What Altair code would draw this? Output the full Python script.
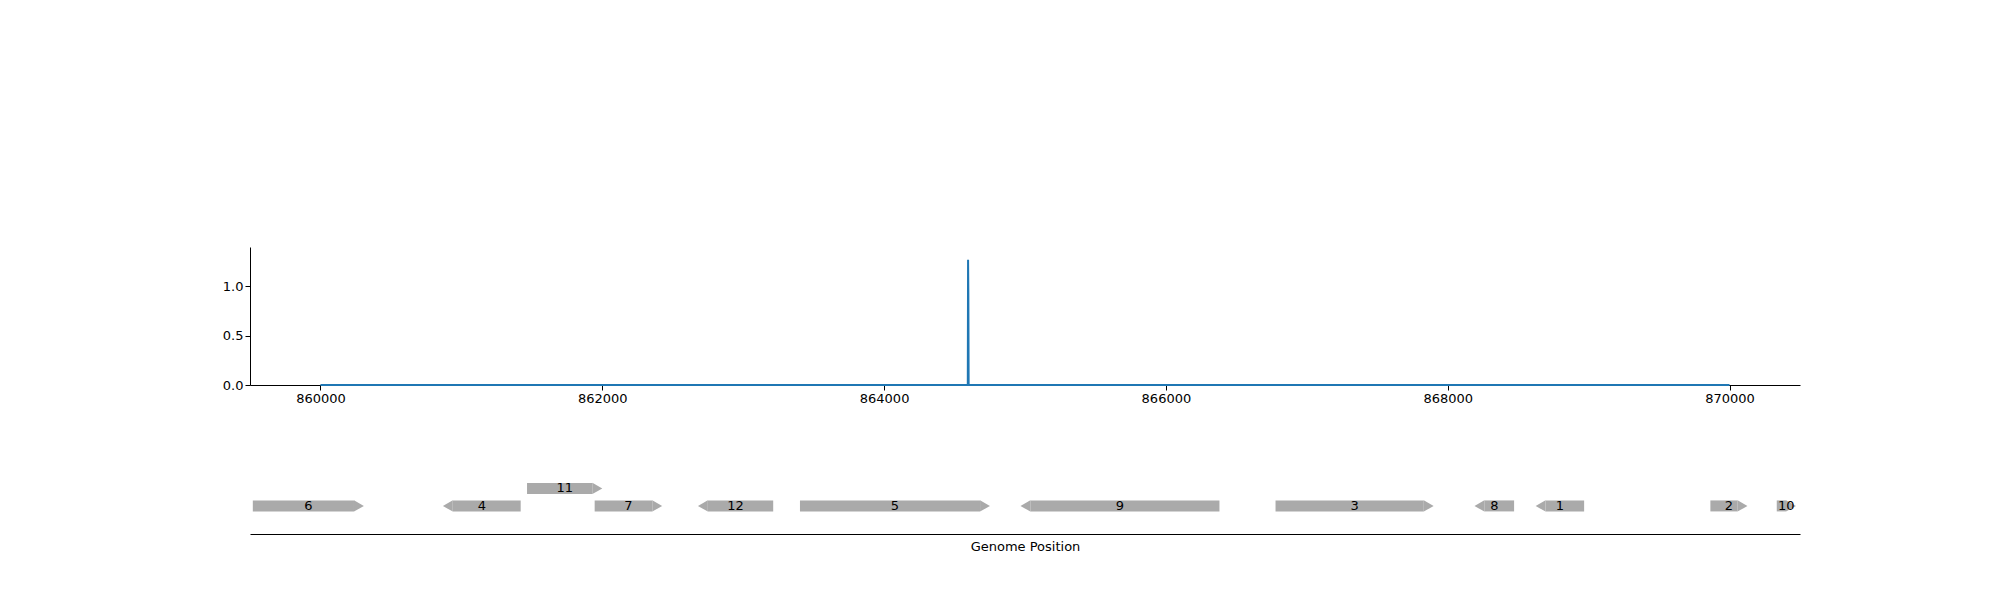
import altair as alt
import pandas as pd

cov_pos = [860000, 864590, 864594, 864596, 864598, 864600, 864604, 870000]
cov_val = [0.0, 0.0, 0.0, 1.27, 0.92, 0.0, 0.0, 0.0]

gene_names = ["6", "4", "11", "7", "12", "5", "9", "3", "8", "1", "2", "10"]
gene_start = [859520, 860869, 861466, 861946, 862679, 863403, 864968, 866778, 868190, 868624, 869864, 870335]
gene_end = [860308, 861421, 862000, 862425, 863213, 864751, 866380, 867900, 868471, 868968, 870127, 870471]
gene_strand = ["+", "-", "+", "+", "-", "+", "-", "+", "-", "-", "+", "+"]
gene_row = [1, 1, 2, 1, 1, 1, 1, 1, 1, 1, 1, 1]

AH = 70
rows = []
for n, s, e, st, r in zip(gene_names, gene_start, gene_end, gene_strand, gene_row):
    if st == "+":
        bs, be, tip, shape = s, e - AH, e - AH / 2, "triangle-right"
    else:
        bs, be, tip, shape = s + AH, e, s + AH / 2, "triangle-left"
    rows.append(dict(name=n, bs=bs, be=be, tip=tip, shape=shape, row=r, mid=(s + e) / 2))
genes = pd.DataFrame(rows)
cov = pd.DataFrame({"pos": cov_pos, "val": cov_val})

xdom = [859500, 870500]
font = "DejaVu Sans"

top = alt.Chart(cov).mark_line(color="#1f77b4", strokeWidth=2).encode(
    x=alt.X("pos:Q", scale=alt.Scale(domain=xdom, nice=False, zero=False),
            axis=alt.Axis(values=[860000, 862000, 864000, 866000, 868000, 870000], format="d",
                          title=None, grid=False, labelFontSize=13, labelFont=font,
                          domainColor="black", tickColor="black", labelColor="black")),
    y=alt.Y("val:Q", scale=alt.Scale(domain=[0, 1.4], nice=False),
            axis=alt.Axis(values=[0, 0.5, 1.0], format=".1f", title=None, grid=False,
                          labelFontSize=13, labelFont=font, domainColor="black",
                          tickColor="black", labelColor="black")),
).properties(width=1550, height=138)

xs = alt.Scale(domain=xdom, nice=False, zero=False)
ys = alt.Scale(domain=[-0.316, 6.47], nice=False, zero=False)
base = alt.Chart(genes)
bars = base.mark_bar(color="#aaaaaa", height=11).encode(
    x=alt.X("bs:Q", scale=xs, axis=alt.Axis(labels=False, ticks=False, grid=False,
                                             title="Genome Position", titleFontSize=13,
                                             titleFont=font, titleFontWeight="normal",
                                             domainColor="black", titlePadding=6)),
    x2="be:Q",
    y=alt.Y("row:Q", scale=ys, axis=None),
)
tips = base.mark_point(filled=True, color="#aaaaaa", opacity=1, size=130).encode(
    x=alt.X("tip:Q", scale=xs), y=alt.Y("row:Q", scale=ys),
    shape=alt.Shape("shape:N", scale=None),
)
labels = base.mark_text(font=font, fontSize=13, color="black").encode(
    x=alt.X("mid:Q", scale=xs), y=alt.Y("row:Q", scale=ys), text="name:N"
)
bottom = alt.layer(bars, tips, labels).properties(width=1550, height=129)

chart = alt.vconcat(top, bottom, spacing=0).properties(
    padding={"left": 214, "top": 239, "right": 5, "bottom": 5}
).configure_view(stroke=None)

chart.save("out.html", embed_options={"renderer": "svg", "actions": False})
